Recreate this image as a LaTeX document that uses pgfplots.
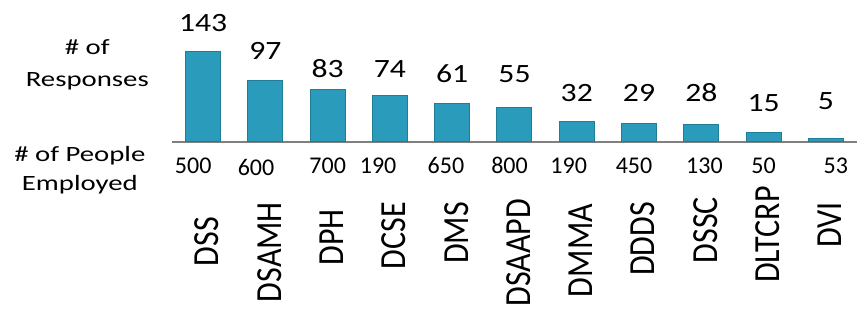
\documentclass[border=0pt]{standalone}
\usepackage{pgfplots}
\pgfplotsset{compat=1.18}
\usepackage{fontspec}
\setmainfont{Carlito}
\usepackage{graphicx}
\definecolor{barc}{HTML}{2A9BBA}
\definecolor{bare}{HTML}{1F7D97}
\definecolor{axc}{HTML}{808080}
\newcommand{\tl}[2]{\scalebox{1}[1.15]{#1}\hspace*{#2}}
\begin{document}
\begin{tikzpicture}
\begin{axis}[
  scale only axis, width=342.5pt, height=70.85pt,
  xmin=-0.5, xmax=10.5, ymin=0, ymax=225,
  axis x line=bottom, axis y line=none,
  axis line style={-, draw=axc, line width=1pt},
  xtick={0,1,2,3,4,5,6,7,8,9,10}, major tick length=0pt,
  ytick=\empty,
  xticklabels={\tl{DSS}{37.5pt},\tl{DSAMH}{30pt},\tl{DPH}{33.5pt},\tl{DCSE}{30pt},\tl{DMS}{30pt},\tl{DSAAPD}{28.5pt},\tl{DMMA}{31pt},\tl{DDDS}{30pt},\tl{DSSC}{27.5pt},\tl{DLTCRP}{22pt},\tl{DVI}{30pt}},
  xticklabel style={xshift=2pt, rotate=90, anchor=east, inner sep=0pt, font=\fontsize{16}{16}\selectfont},
  clip=false,
]
\addplot[ybar, bar width=17.5pt, fill=barc, draw=bare, line width=0.5pt] coordinates {
 (0,143) (1,97) (2,83) (3,74) (4,61) (5,55) (6,32) (7,29) (8,28) (9,15) (10,5)};
\addplot[draw=none, mark=none, point meta=explicit symbolic,
  nodes near coords={\scalebox{1.2}[1]{\pgfplotspointmeta}},
  nodes near coords style={anchor=south, inner sep=0pt, font=\fontsize{13.2}{13.2}\selectfont}]
 table[meta=v] {
x y v
0 174 143
1 130 97
2 101 83
3 101 74
4 93 61
5 93 55
6 63 32
7 63 29
8 63 28
9 47 15
10 50 5
};
\addplot[draw=none, mark=none, point meta=explicit symbolic,
  nodes near coords={\pgfplotspointmeta},
  nodes near coords style={anchor=base, inner sep=0pt, font=\fontsize{12}{12}\selectfont}]
 table[meta=v] {
x y v
-0.16 -50 500
0.85 -53 600
2.0 -50 700
2.81 -50 190
3.9 -50 650
4.92 -50 800
5.87 -50 190
6.92 -50 450
8.05 -50 130
9.0 -50 50
10.16 -50 53
};
\node[align=center, font=\fontsize{10.9}{15.8}\selectfont, inner sep=0pt] at (axis cs:-1.86,122) {\scalebox{1.32}[1]{\# of}\\\scalebox{1.32}[1]{Responses}};
\node[align=center, font=\fontsize{10.9}{14.5}\selectfont, inner sep=0pt] at (axis cs:-1.98,-45) {\scalebox{1.32}[1]{\# of People}\\\scalebox{1.32}[1]{Employed}};
\coordinate (O) at (rel axis cs:0,0);
\end{axis}
\pgfresetboundingbox
\path[use as bounding box] (O) ++(-86pt,-88.15pt) rectangle ++(429.5pt,159pt);
\end{tikzpicture}
\end{document}
